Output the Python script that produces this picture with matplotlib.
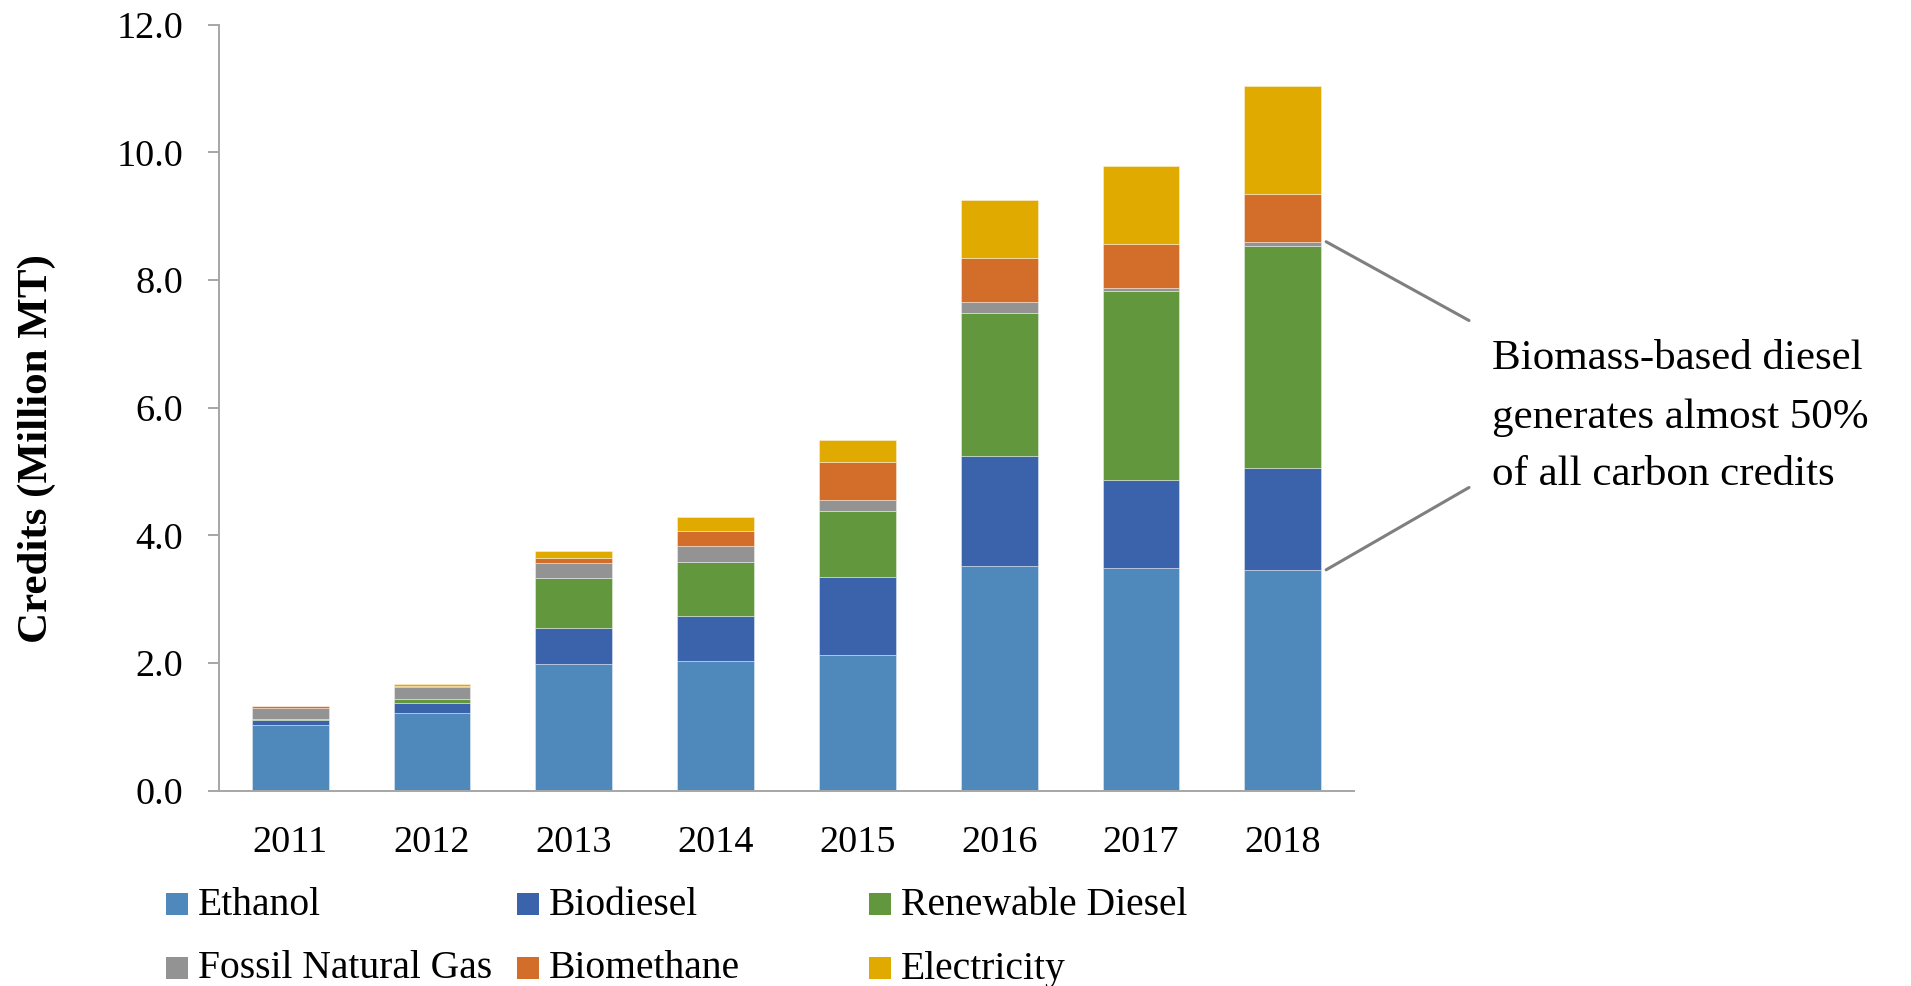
import matplotlib.pyplot as plt
import numpy as np
from matplotlib.patches import Rectangle

years = ["2011", "2012", "2013", "2014", "2015", "2016", "2017", "2018"]
ethanol = [1.03, 1.22, 1.98, 2.03, 2.12, 3.52, 3.49, 3.46]
biodiesel = [0.07, 0.15, 0.57, 0.71, 1.22, 1.73, 1.37, 1.60]
renewable_diesel = [0.02, 0.07, 0.78, 0.85, 1.04, 2.24, 2.97, 3.47]
fossil_gas = [0.17, 0.19, 0.23, 0.25, 0.17, 0.16, 0.05, 0.07]
biomethane = [0.03, 0.01, 0.09, 0.23, 0.60, 0.69, 0.68, 0.75]
electricity = [0.00, 0.03, 0.10, 0.22, 0.34, 0.91, 1.22, 1.69]

names = ["Ethanol", "Biodiesel", "Renewable Diesel",
         "Fossil Natural Gas", "Biomethane", "Electricity"]
series = [ethanol, biodiesel, renewable_diesel, fossil_gas, biomethane, electricity]
colors = ["#4F88BB", "#3B63AB", "#62973E", "#939393", "#D26D2A", "#E0AA00"]

SERIF = ["Liberation Serif", "DejaVu Serif"]
W, H = 1911, 986

fig = plt.figure(figsize=(W / 100, H / 100), dpi=100)
ax = fig.add_axes([219.3 / W, 1 - 790.7 / H, 1134.4 / W, 766 / H])

x = np.arange(len(years))
bar_w = 0.541
bottom = np.zeros(len(years))
for vals, c in zip(series, colors):
    ax.bar(x, vals, bar_w, bottom=bottom, color=c,
           edgecolor=(1, 1, 1, 0.45), linewidth=0.6)
    bottom += np.array(vals)

ax.set_xlim(-0.5, len(years) - 0.5)
ax.set_ylim(0, 12)
ax.set_yticks(np.arange(0, 12.1, 2))
ax.set_yticklabels([f"{v:.1f}" for v in np.arange(0, 12.1, 2)])
ax.set_xticks(x)
ax.set_xticklabels(years)

for side in ("top", "right"):
    ax.spines[side].set_visible(False)
for side in ("left", "bottom"):
    ax.spines[side].set_color("#A6A6A6")
    ax.spines[side].set_linewidth(1.4)

ax.tick_params(axis="y", length=8, width=1.4, color="#A6A6A6", pad=18,
               labelsize=27.5, labelcolor="black")
ax.tick_params(axis="x", length=0, pad=25, labelsize=27.5, labelcolor="black")
for lab in ax.get_xticklabels() + ax.get_yticklabels():
    lab.set_family(SERIF)

fig.text(37 / W, 1 - 449 / H, "Credits (Million MT)", rotation=90,
         ha="center", va="center", fontsize=31, fontweight="bold", family=SERIF)

# callout lines to the 2018 biomass-based diesel block
last = len(years) - 1
x_edge = last + bar_w / 2 + 0.035
bbd_top = ethanol[last] + biodiesel[last] + renewable_diesel[last] + fossil_gas[last]
bbd_bottom = ethanol[last]
for y_data, y_pix in [(bbd_top, 320.5), (bbd_bottom, 487.5)]:
    ax.annotate("", xy=(x_edge, y_data), xycoords="data",
                xytext=(1469 / W, 1 - y_pix / H), textcoords="figure fraction",
                arrowprops=dict(arrowstyle="-", color="#7F7F7F", lw=2.2,
                                shrinkA=0, shrinkB=0),
                annotation_clip=False)

callout = ["Biomass-based diesel", "generates almost 50%", "of all carbon credits"]
for line, base in zip(callout, [369, 428, 485]):
    fig.text(1492 / W, 1 - base / H, line, ha="left", va="baseline",
             fontsize=31, family=SERIF)

# legend laid out like the original (row-wise, fixed column starts)
col_x = [166, 517, 869]
row_y = [904, 967.5]
sq = 22
for i, (name, c) in enumerate(zip(names, colors)):
    cx = col_x[i % 3]
    cy = row_y[i // 3]
    fig.add_artist(Rectangle((cx / W, 1 - (cy + sq / 2) / H), sq / W, sq / H,
                             transform=fig.transFigure, facecolor=c,
                             edgecolor="none"))
    fig.text((cx + 32) / W, 1 - (cy + 11) / H, name, ha="left",
             va="baseline", fontsize=28.5, family=SERIF)

fig.savefig("out.png", dpi=100)
